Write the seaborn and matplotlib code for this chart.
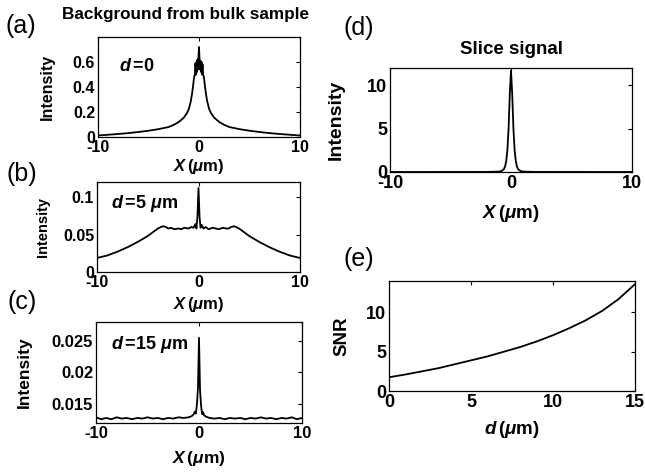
import matplotlib
matplotlib.use("Agg")
import matplotlib.pyplot as plt
import seaborn as sns
import numpy as np
import pandas as pd

# ---------------- data ----------------
xa = [-10, -9, -8, -7, -6, -5, -4, -3, -2.5, -2, -1.5, -1.2, -1, -0.8, -0.7, -0.6, -0.5,
      -0.45, -0.4, -0.35, -0.3, -0.25, -0.2, -0.15, -0.1, -0.05, 0,
      0.05, 0.1, 0.15, 0.2, 0.25, 0.3, 0.35, 0.4, 0.45,
      0.5, 0.6, 0.7, 0.8, 1, 1.2, 1.5, 2, 2.5, 3, 4, 5, 6, 7, 8, 9, 10]
ya = [0.012, 0.018, 0.024, 0.031, 0.040, 0.050, 0.063, 0.080, 0.097, 0.120, 0.155, 0.190, 0.225, 0.290, 0.340, 0.400, 0.470,
      0.490, 0.500, 0.590, 0.500, 0.600, 0.520, 0.620, 0.540, 0.640, 0.720,
      0.630, 0.540, 0.610, 0.520, 0.600, 0.500, 0.580, 0.500, 0.490,
      0.470, 0.400, 0.340, 0.290, 0.225, 0.190, 0.155, 0.120, 0.097, 0.080, 0.063, 0.050, 0.040, 0.031, 0.024, 0.018, 0.012]

xb = [-10, -9, -8, -7, -6, -5, -4.5, -4, -3.7, -3.5, -3.2, -3, -2.7, -2.4, -2, -1.7, -1.4, -1, -0.7, -0.5,
      -0.3, -0.2, -0.1, 0, 0.1, 0.2, 0.3,
      0.5, 0.7, 1, 1.4, 1.7, 2, 2.4, 2.7, 3, 3.2, 3.5, 3.7, 4, 4.5, 5, 6, 7, 8, 9, 10]
yb = [0.0187, 0.022, 0.027, 0.033, 0.040, 0.048, 0.053, 0.058, 0.060, 0.061, 0.060, 0.058, 0.059, 0.057, 0.058, 0.057, 0.059, 0.058, 0.060, 0.059,
      0.064, 0.058, 0.075, 0.112, 0.074, 0.059, 0.063,
      0.058, 0.060, 0.057, 0.059, 0.058, 0.057, 0.059, 0.058, 0.058, 0.060, 0.061, 0.060, 0.058, 0.053, 0.048, 0.040, 0.033, 0.027, 0.022, 0.0187]

xc = [-10, -9.5, -9, -8.5, -8, -7.5, -7, -6.5, -6, -5.5, -5, -4.5, -4, -3.5, -3, -2.5, -2, -1.5, -1,
      -0.7, -0.5, -0.4, -0.3, -0.2, -0.1, 0, 0.1, 0.2, 0.3, 0.4, 0.5, 0.7,
      1, 1.5, 2, 2.5, 3, 3.5, 4, 4.5, 5, 5.5, 6, 6.5, 7, 7.5, 8, 8.5, 9, 9.5, 10]
yc = [0.0129, 0.0126, 0.0128, 0.0126, 0.0129, 0.0127, 0.0128, 0.0126, 0.0128, 0.0127, 0.0129, 0.0127, 0.0128, 0.0126, 0.0128, 0.0127, 0.0129, 0.0128, 0.0129,
      0.0131, 0.0134, 0.0138, 0.0135, 0.0150, 0.0175, 0.0255, 0.0172, 0.0148, 0.0134, 0.0137, 0.0132, 0.0130,
      0.0128, 0.0127, 0.0128, 0.0126, 0.0128, 0.0127, 0.0128, 0.0126, 0.0128, 0.0127, 0.0129, 0.0127, 0.0128, 0.0126, 0.0128, 0.0127, 0.0129, 0.0126, 0.0128]

xd = [-10, -2, -1, -0.8, -0.6, -0.5, -0.4, -0.3, -0.2, -0.1, 0, 0.1, 0.2, 0.3, 0.4, 0.5, 0.6, 0.8, 1, 2, 10]
yd = [0.0, 0.01, 0.05, 0.10, 0.30, 0.60, 1.20, 2.50, 5.00, 9.00, 11.7, 9.00, 5.00, 2.50, 1.20, 0.60, 0.30, 0.10, 0.05, 0.01, 0.0]

de = [0, 1, 2, 3, 4, 5, 6, 7, 8, 9, 10, 11, 12, 13, 14, 15]
snr = [1.75, 2.1, 2.5, 2.9, 3.4, 3.9, 4.4, 5.0, 5.6, 6.3, 7.1, 8.0, 9.0, 10.2, 11.7, 13.6]

# ---------------- style ----------------
sns.set_theme(style="white")
plt.rcParams.update({
    "font.family": ["Liberation Sans", "DejaVu Sans"],
    "font.weight": "bold",
    "axes.labelweight": "bold",
    "text.color": "black",
    "axes.labelcolor": "black",
    "axes.unicode_minus": False,
    "mathtext.fontset": "custom",
    "mathtext.rm": "Liberation Sans:bold",
    "mathtext.it": "Liberation Sans:italic:bold",
    "mathtext.bf": "Liberation Sans:bold",
    "axes.edgecolor": "black",
    "axes.linewidth": 0.9,
    "xtick.color": "black",
    "ytick.color": "black",
})

W, H = 645, 472
fig = plt.figure(figsize=(W / 100, H / 100), dpi=100)


def box(l, t, r, b):
    return [l / W, (H - b) / H, (r - l) / W, (b - t) / H]


def style_ax(ax, fs):
    ax.tick_params(direction="in", top=True, right=True, length=3, width=0.8,
                   labelsize=fs, pad=2, labelcolor="black")
    for lab in ax.get_xticklabels() + ax.get_yticklabels():
        lab.set_fontweight("bold")
    for s in ax.spines.values():
        s.set_visible(True)
        s.set_color("black")


xlab = r"$X\,$($\mu$m)"
lw = 1.3

# (a)
ax = fig.add_axes(box(98, 37, 300, 137))
sns.lineplot(x=xa, y=ya, ax=ax, color="black", lw=lw, sort=False, estimator=None)
ax.set_xlim(-10, 10); ax.set_ylim(0, 0.8)
ax.set_xticks([-10, 0, 10]); ax.set_yticks([0, 0.2, 0.4, 0.6])
ax.set_yticklabels(["0", "0.2", "0.4", "0.6"])
style_ax(ax, 11.5)
ax.set_xlabel(xlab, fontsize=12)
ax.set_ylabel("Intensity", fontsize=11.5)
ax.xaxis.set_label_coords(0.5, -0.20)
ax.yaxis.set_label_coords(-43 / 202, 0.5)
ax.text(-7.9, 0.565, r"$d\,$=0", fontsize=13, va="center", ha="left")

# (b)
ax = fig.add_axes(box(97, 182, 300, 272))
sns.lineplot(x=xb, y=yb, ax=ax, color="black", lw=lw, sort=False, estimator=None)
ax.set_xlim(-10, 10); ax.set_ylim(0, 0.12)
ax.set_xticks([-10, 0, 10]); ax.set_yticks([0, 0.05, 0.1])
ax.set_yticklabels(["0", "0.05", "0.1"])
style_ax(ax, 11.5)
ax.set_xlabel(xlab, fontsize=12)
ax.set_ylabel("Intensity", fontsize=10.5)
ax.xaxis.set_label_coords(0.5, -0.255)
ax.yaxis.set_label_coords(-47 / 203, 0.5)
ax.text(-8.6, 0.0907, r"$d\,$=5 $\mu$m", fontsize=13, va="center", ha="left")

# (c)
ax = fig.add_axes(box(96, 322, 302, 423))
sns.lineplot(x=xc, y=yc, ax=ax, color="black", lw=lw, sort=False, estimator=None)
ax.set_xlim(-10, 10); ax.set_ylim(0.012, 0.028)
ax.set_xticks([-10, 0, 10]); ax.set_yticks([0.015, 0.02, 0.025])
ax.set_yticklabels(["0.015", "0.02", "0.025"])
style_ax(ax, 12)
ax.set_xlabel(xlab, fontsize=12.5)
ax.set_ylabel("Intensity", fontsize=12.5)
ax.xaxis.set_label_coords(0.5, -0.257)
ax.yaxis.set_label_coords(-64 / 206, 0.5)
ax.text(-8.5, 0.0244, r"$d\,$=15 $\mu$m", fontsize=13, va="center", ha="left")

# (d)
ax = fig.add_axes(box(390, 68, 632, 172))
sns.lineplot(x=xd, y=yd, ax=ax, color="black", lw=lw, sort=False, estimator=None)
ax.set_xlim(-10, 10); ax.set_ylim(0, 12)
ax.set_xticks([-10, 0, 10]); ax.set_yticks([0, 5, 10])
style_ax(ax, 13)
ax.set_xlabel(xlab, fontsize=13.5)
ax.set_ylabel("Intensity", fontsize=14)
ax.xaxis.set_label_coords(0.5, -0.30)
ax.yaxis.set_label_coords(-45 / 242, 0.5)
ax.set_title("Slice signal", fontsize=13.5, fontweight="bold", pad=10)

# (e)
ax = fig.add_axes(box(389, 281, 635, 391))
sns.lineplot(x=de, y=snr, ax=ax, color="black", lw=lw, sort=False, estimator=None)
ax.set_xlim(0, 15); ax.set_ylim(0, 14)
ax.set_xticks([0, 5, 10, 15]); ax.set_yticks([0, 5, 10])
style_ax(ax, 13)
ax.set_xlabel(r"$d\,$($\mu$m)", fontsize=13.5)
ax.set_ylabel("SNR", fontsize=13.5)
ax.xaxis.set_label_coords(0.5, -0.255)
ax.yaxis.set_label_coords(-39 / 246, 0.5)

# figure texts
fig.text(185 / W, 1 - 15 / H, "Background from bulk sample", fontsize=12.3,
         fontweight="bold", ha="center", va="center")
for lab, xp, yp in [("(a)", 21, 26), ("(b)", 22, 174), ("(c)", 22, 302),
                    ("(d)", 359, 28), ("(e)", 359, 259)]:
    fig.text(xp / W, 1 - yp / H, lab, fontsize=18, fontweight="normal",
             ha="center", va="center")

fig.savefig("out.png", dpi=100)
